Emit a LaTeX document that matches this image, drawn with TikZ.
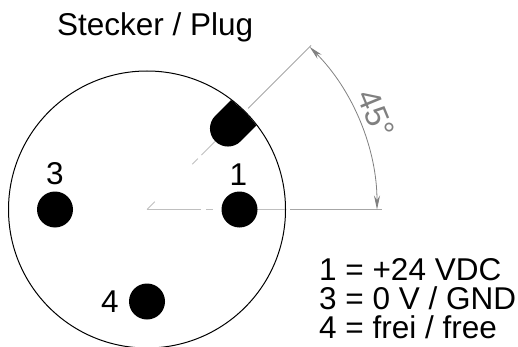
\documentclass[tikz,border=0pt]{standalone}
\usepackage{fontspec}
\setmainfont{Liberation Sans}
\usetikzlibrary{arrows.meta,positioning}
\tikzstyle{pin} = [fill=black, circle, inner sep=0pt, minimum size=36pt]
\tikzstyle{pinlabel} = [inner sep=0pt, font=\fontsize{31.5}{31.5}\selectfont]
\tikzstyle{axisline} = [draw=gray!70, line width=0.8pt]
\tikzstyle{centerline} = [draw=gray!50, line width=0.8pt]
\tikzstyle{dimension} = [draw=gray, line width=0.8pt,
    {Stealth[length=14pt,width=6pt]}-{Stealth[length=14pt,width=6pt]}]

\begin{document}
\begin{tikzpicture}[x=1pt, y=1pt]
    \useasboundingbox (0,0) rectangle (518,-347);
    \coordinate (center) at (147,-209.5);
    \coordinate (pin1pos) at (239.5,-209.5);
    \node [pinlabel, anchor=base west] (title) at (57,-36) {Stecker / Plug};

    \begin{scope}[shift={(center)}, rotate=45]
        \coordinate (mark1) at (11,0);
        \coordinate (mark2) at (64,0);
        \coordinate (mark3) at (72,0);
        \coordinate (mark4) at (77,0);
        \coordinate (mark5) at (96,0);
        \coordinate (keyend) at (143,0);
        \coordinate (axisend) at (232,0);
        \coordinate (arctop) at (230,0);
    \end{scope}
    \coordinate (hgap1) at (200.5,-209.5);
    \coordinate (hgap2) at (206,-209.5);
    \coordinate (hgap3) at (212.5,-209.5);
    \coordinate (hgap4) at (285,-209.5);
    \coordinate (hgap5) at (290,-209.5);
    \coordinate (hend) at (382,-209.5);

    \draw [centerline] (center) -- (hgap1);
    \draw [centerline] (hgap2) -- (hgap3);
    \draw [centerline] (pin1pos) -- (hgap4);
    \draw [axisline] (hgap5) -- (hend);
    \draw [centerline] (center) -- (mark1);
    \draw [centerline] (mark2) -- (mark3);
    \draw [centerline] (mark4) -- (mark5);
    \draw [axisline] (keyend) -- (axisend);

    \node [draw=black, line width=1pt, circle, inner sep=0pt, minimum size=277pt] (housing) at (center) {};
    \node [pin] (pin1) at (pin1pos) {};
    \node [pin] (pin3) at (55,-209.5) {};
    \node [pin] (pin4) at (147,-301.5) {};
    \node [pinlabel, above=6pt of pin1, xshift=-1pt] (label1) {1};
    \node [pinlabel, above=6pt of pin3] (label3) {3};
    \node [pinlabel, left=10pt of pin4] (label4) {4};

    \begin{scope}[shift={(center)}, rotate=45]
        \fill [black] (136.8,18) -- (114.5,18) arc (90:270:18) -- (136.8,-18) arc (-7.5:7.5:138) -- cycle;
    \end{scope}

    \draw [dimension] (arctop) arc (45:0:230);
    \node [text=gray, inner sep=0pt, rotate=-67.5, font=\fontsize{32}{32}\selectfont] (angle) at (376,-114) {45°};

    \node [inner sep=0pt, anchor=north west, align=left, font=\fontsize{31.5}{29}\selectfont] (legend) at (319,-258.5) {1 = +24 VDC\\3 = 0 V / GND\\4 = frei / free};
\end{tikzpicture}
\end{document}
